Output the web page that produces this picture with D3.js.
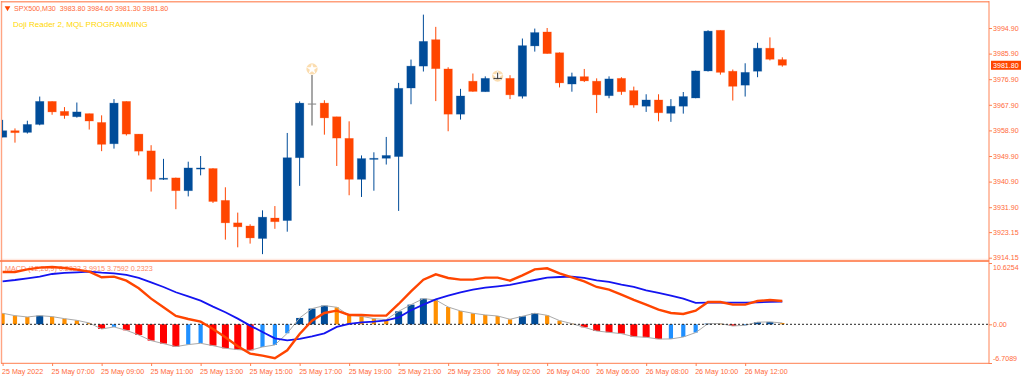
<!DOCTYPE html>
<html><head><meta charset="utf-8">
<style>html,body{margin:0;padding:0;background:#fff;overflow:hidden}svg{display:block}
text{font-family:"Liberation Sans",sans-serif}</style>
<script src="https://cdn.jsdelivr.net/npm/d3@7/dist/d3.min.js"></script></head><body>
<svg id="c" width="1024" height="379"></svg>
<script>
const opens=[3956.5,3958.8,3958.2,3961.0,3969.1,3965.6,3963.7,3964.8,3961.7,3954.2,3969.1,3957.6,3951.7,3941.7,3942.2,3937.7,3945.3,3945.5,3934.3,3926.4,3925.3,3920.9,3928.1,3927.2,3949.3,3968.3,3968.5,3963.7,3956.1,3941.7,3948.7,3949.1,3949.7,3973.8,3981.5,3990.8,3980.5,3964.6,3976.2,3972.5,3977.3,3977.2,3970.9,3988.6,3993.5,3986.2,3975.2,3977.8,3976.2,3971.1,3977.2,3972.9,3967.4,3969.6,3964.9,3967.4,3970.3,3979.8,3994.1,3979.7,3974.8,3979.7,3987.8,3983.8];
const highs=[3962.6,3959.6,3962.3,3970.8,3969.1,3967.1,3968.7,3964.8,3964.2,3969.9,3969.1,3957.6,3953.7,3948.9,3942.3,3947.9,3949.9,3945.6,3938.9,3930.0,3925.9,3930.8,3932.3,3958.0,3969.1,3978.4,3969.5,3963.7,3962.1,3950.1,3951.2,3956.6,3975.6,3983.8,3999.6,3995.3,3981.1,3973.5,3978.9,3977.9,3979.2,3978.3,3991.2,3994.7,3994.9,3986.3,3979.2,3980.5,3977.2,3977.9,3977.6,3974.3,3971.6,3971.6,3969.9,3972.4,3979.9,3994.1,3994.1,3980.3,3982.5,3989.7,3991.6,3984.6];
const lows=[3956.5,3954.6,3957.8,3960.7,3964.4,3963.0,3963.4,3959.2,3951.6,3952.5,3957.1,3950.1,3937.4,3941.5,3931.2,3935.7,3943.1,3933.4,3920.5,3917.8,3919.1,3915.4,3924.3,3923.3,3939.4,3960.6,3957.4,3946.4,3936.1,3935.5,3937.7,3946.9,3930.6,3968.1,3979.6,3969.2,3958.6,3962.7,3972.5,3972.5,3977.1,3969.9,3970.1,3986.6,3985.9,3974.0,3972.5,3975.9,3965.0,3970.2,3971.4,3966.9,3965.4,3962.1,3961.9,3964.8,3970.2,3979.6,3978.5,3969.4,3970.8,3977.6,3983.5,3981.3];
const closes=[3958.8,3958.1,3961.0,3969.1,3965.4,3964.1,3965.4,3962.2,3954.0,3968.5,3957.6,3951.6,3941.7,3942.1,3937.7,3945.7,3945.7,3933.9,3926.4,3925.0,3921.1,3928.4,3926.8,3949.3,3968.5,3968.1,3963.3,3956.2,3941.7,3949.0,3949.1,3950.1,3973.7,3981.5,3990.2,3980.6,3964.6,3971.0,3972.6,3977.2,3977.2,3971.4,3988.7,3993.3,3985.9,3975.6,3977.8,3976.3,3971.4,3977.0,3972.5,3967.8,3969.6,3965.1,3967.4,3970.8,3979.8,3993.8,3979.3,3974.4,3979.3,3987.8,3983.9,3981.8];
const histogram=[1.91,1.50,1.27,1.50,1.33,0.98,0.69,0.23,-0.81,-0.46,-1.04,-1.85,-2.83,-3.35,-3.87,-3.52,-3.29,-3.70,-4.16,-4.39,-4.51,-3.93,-3.58,-1.56,1.10,2.72,3.24,2.95,1.56,1.39,0.98,0.81,2.25,3.41,4.45,4.22,3.00,2.31,1.91,1.62,1.44,0.87,1.39,1.91,1.56,0.64,0.12,-0.52,-1.16,-1.39,-1.62,-2.14,-2.25,-2.56,-2.54,-2.20,-1.44,0.12,0.12,-0.29,-0.17,0.37,0.41,0.2323];
const signalLine=[7.45,7.68,7.97,8.26,8.72,8.90,9.01,9.13,8.95,8.84,8.55,8.03,7.28,6.47,5.55,4.85,4.10,3.06,2.08,0.98,-0.23,-1.33,-2.43,-2.77,-2.54,-2.08,-1.56,-0.46,0.06,0.35,0.46,0.69,1.21,2.43,3.41,4.33,4.97,5.55,6.01,6.35,6.59,6.82,7.28,7.68,8.09,8.20,8.26,8.03,7.63,7.34,6.87,6.47,5.89,5.43,4.97,4.45,3.70,3.76,3.76,3.76,3.76,3.81,3.87,3.93];
const macdLine=[9.07,9.07,9.53,9.82,9.94,9.76,9.47,9.13,8.15,8.26,7.57,6.24,4.45,2.95,1.44,0.92,0.46,-0.81,-2.25,-3.81,-5.08,-5.43,-5.89,-4.51,-1.68,0.64,1.96,2.37,1.62,1.62,1.50,1.50,3.52,5.72,7.74,8.67,8.03,7.74,7.74,8.09,8.09,7.57,8.49,9.53,9.71,8.84,8.15,7.45,6.47,6.01,5.14,4.22,3.41,2.54,1.96,1.79,2.37,3.87,3.87,3.41,3.41,4.04,4.22,4.04];
const priceTicks=[3994.90,3985.90,3976.90,3967.90,3958.90,3949.90,3940.90,3931.90,3923.15,3914.15];
const macdTicks=[10.6254,0,-6.7089];
const macdTickLabels=["10.6254","0.00","-6.7089"];
const timeTickIdx=[0,4,8,12,16,20,24,28,32,36,40,44,48,52,56,60];
const timeLabels=["25 May 2022","25 May 07:00","25 May 09:00","25 May 11:00","25 May 13:00","25 May 15:00","25 May 17:00","25 May 19:00","25 May 21:00","25 May 23:00","26 May 02:00","26 May 04:00","26 May 06:00","26 May 08:00","26 May 10:00","26 May 12:00"];
const dojiIdx=[25,40];
const dojiMarkPrice=[3980.5,3978.0];
const lastPrice=3981.80;
const titleText="SPX500,M30  3983.80 3984.60 3981.30 3981.80";
const indicatorText="Doji Reader 2, MQL PROGRAMMING";
const macdText="MACD (12,26,9) 0.2323 3.9915 3.7592 0.2323";

const UP="#004C99",DOWN="#FF4500",FRAME="#FF7F50",TXT="#FF6A3A",FS=7.1;
const L=2,R=989,T1=2,B1=260,T2=263,B2=363;
const svg=d3.select("#c");
const x=d3.scalePoint().domain(d3.range(opens.length)).range([2.6,782.3]);
const yP=d3.scaleLinear().domain([3914.15,3994.9]).range([257.7,28]);
const yM=d3.scaleLinear().domain([-6.7089,10.6254]).range([B2,T2]);
const defs=svg.append("defs");
defs.append("clipPath").attr("id","p1").append("rect").attr("x",L).attr("y",T1).attr("width",R-L).attr("height",B1-T1);
defs.append("clipPath").attr("id","p2").append("rect").attr("x",L).attr("y",T2).attr("width",R-L).attr("height",B2-T2);

// frame
const fr=svg.append("g");
const frameLine=(x1,y1,x2,y2,w,o)=>fr.append("line").attr("x1",x1).attr("y1",y1).attr("x2",x2).attr("y2",y2).attr("stroke",FRAME).attr("stroke-width",w).attr("opacity",o);
frameLine(1,1.7,989,1.7,1.6,.75);
frameLine(1.5,1,1.5,363.5,1.4,.7);
frameLine(2,259.3,989,259.3,1,.2);
frameLine(0,261,989,261,2,.85);
frameLine(1,363.3,989,363.3,1.2,.8);
frameLine(989,1,989,364,1.2,.8);

// candles
const g1=svg.append("g").attr("clip-path","url(#p1)");
const isDoji=i=>dojiIdx.includes(i);
const colorOf=i=>isDoji(i)?(i===25?"#8a8a8a":"#333"):(closes[i]>=opens[i]?UP:DOWN);
g1.selectAll("circle.mark").data(dojiIdx).join("circle").attr("class","mark")
 .attr("cx",d=>x(d)).attr("cy",(d,k)=>yP(dojiMarkPrice[k])).attr("r",5.6).attr("fill","#FBDDB0");
g1.selectAll("path.star").data(dojiIdx).join("path").attr("class","star")
 .attr("transform",(d,k)=>`translate(${x(d)},${yP(dojiMarkPrice[k])})`)
 .attr("d",d3.symbol(d3.symbolStar,38)).attr("fill","#fff");
g1.selectAll("line.wick").data(d3.range(opens.length)).join("line").attr("class","wick")
 .attr("x1",d=>x(d)).attr("x2",d=>x(d)).attr("y1",d=>yP(highs[d])).attr("y2",d=>yP(lows[d]))
 .attr("stroke",colorOf).attr("stroke-width",d=>d===25?1.5:1);
g1.selectAll("rect.body").data(d3.range(opens.length)).join("rect").attr("class","body")
 .attr("x",d=>x(d)-(isDoji(d)?4:4.2)).attr("width",d=>isDoji(d)?8:8.4)
 .attr("y",d=>yP(Math.max(opens[d],closes[d]))).attr("height",d=>Math.max(0.8,Math.abs(yP(opens[d])-yP(closes[d]))))
 .attr("fill",colorOf).attr("stroke",colorOf).attr("stroke-opacity",.3).attr("stroke-width",.8);

// MACD
const g2=svg.append("g").attr("clip-path","url(#p2)");
const barColor=(v,i)=>{const rising=i>0&&v>histogram[i-1];return v>=0?(rising?UP:"#FF9000"):(rising?"#2090FF":"#FF0000");};
const barW=(v,i)=>{const c=barColor(v,i);return (c===UP||c==="#FF0000")?7:4.2;};
g2.selectAll("rect.h").data(histogram).join("rect").attr("class","h")
 .attr("x",(v,i)=>x(i)-barW(v,i)/2).attr("width",barW)
 .attr("y",v=>Math.min(yM(v),yM(0))).attr("height",v=>Math.abs(yM(v)-yM(0))).attr("fill",barColor);
const ln=d3.line().x((v,i)=>x(i)).y(v=>yM(v));
g2.append("path").attr("d",ln(histogram)).attr("fill","none").attr("stroke","#aaaaaa").attr("stroke-width",1);
g2.append("line").attr("x1",L).attr("x2",R).attr("y1",yM(0)).attr("y2",yM(0)).attr("stroke","#222").attr("stroke-dasharray","2 2").attr("stroke-width",1);
g2.append("text").attr("x",5).attr("y",271).attr("font-size",FS+.1).attr("fill",TXT).attr("opacity",.8).text(macdText);
g2.append("path").attr("d",ln(signalLine)).attr("fill","none").attr("stroke","#1414F0").attr("stroke-width",1.8);
g2.append("path").attr("d",ln(macdLine)).attr("fill","none").attr("stroke",DOWN).attr("stroke-width",2.4);

// axes
const styleAxis=g=>{g.select(".domain").remove();g.selectAll("line").attr("stroke",FRAME);g.selectAll("text").attr("fill",TXT).attr("font-size",FS);};
svg.append("g").attr("transform",`translate(${R},0)`)
 .call(d3.axisRight(yP).tickValues(priceTicks).tickFormat(d3.format(".2f")).tickSize(3).tickPadding(1)).call(styleAxis);
svg.append("g").attr("transform",`translate(${R},0)`)
 .call(d3.axisRight(yM).tickValues(macdTicks).tickFormat((d,i)=>macdTickLabels[i]).tickSize(3).tickPadding(1)).call(styleAxis)
 .call(g=>g.selectAll("text").attr("dy",(d,i)=>i===0?"0.85em":i===2?"-0.4em":"0.32em"));
svg.append("g").attr("transform",`translate(0,${B2})`)
 .call(d3.axisBottom(x).tickValues(timeTickIdx).tickFormat((d,i)=>timeLabels[i]).tickSize(3).tickPadding(2.5)).call(styleAxis)
 .call(g=>g.selectAll("text").attr("text-anchor","start").attr("x",-1));

// price tag and legends
svg.append("rect").attr("x",991).attr("y",yP(lastPrice)-4.5).attr("width",30).attr("height",9).attr("fill",DOWN);
svg.append("text").attr("x",993).attr("y",yP(lastPrice)+2.6).attr("font-size",FS).attr("fill","#fff").text(lastPrice.toFixed(2));
svg.append("path").attr("d",d3.symbol(d3.symbolTriangle,14)).attr("transform","translate(7.5,8) rotate(180)").attr("fill",DOWN);
svg.append("text").attr("x",14).attr("y",10.5).attr("font-size",FS).attr("fill",TXT).attr("xml:space","preserve").text(titleText);
svg.append("text").attr("x",13).attr("y",26.5).attr("font-size",8).attr("fill","#FFD700").text(indicatorText);
</script></body></html>
